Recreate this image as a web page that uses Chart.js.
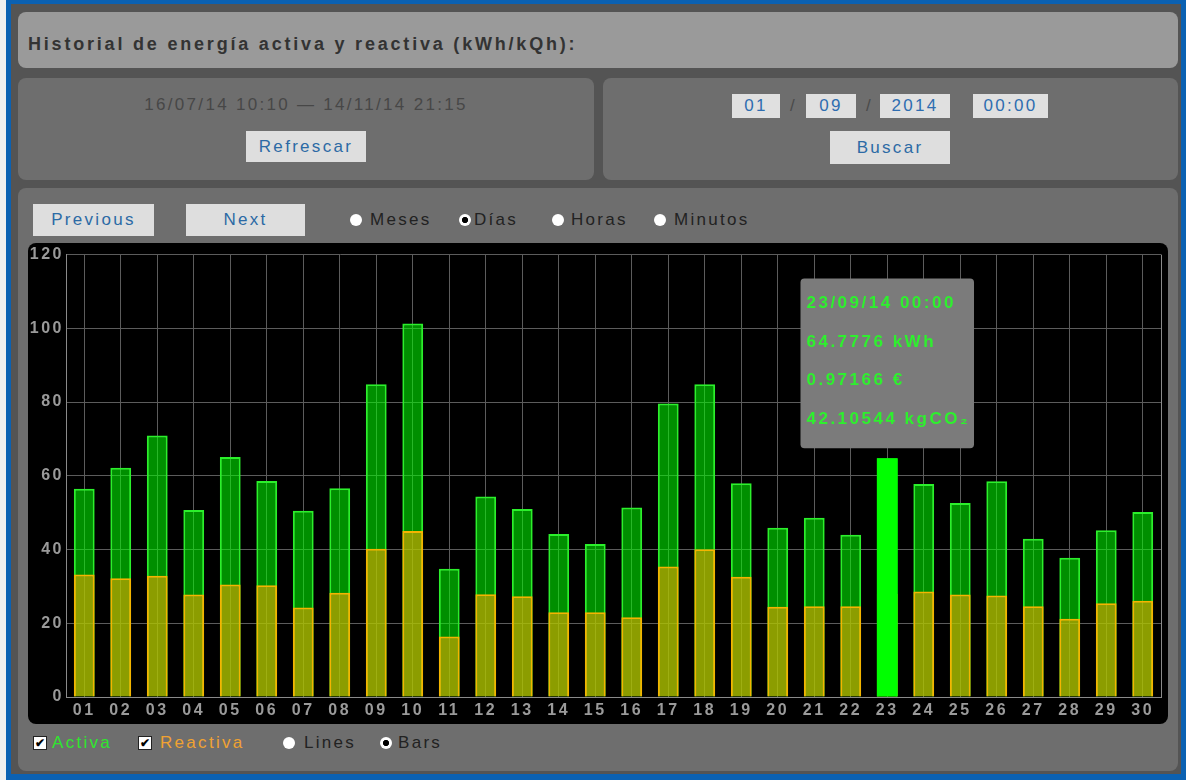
<!DOCTYPE html>
<html>
<head>
<meta charset="utf-8">
<script src="https://cdn.jsdelivr.net/npm/chart.js@4.4.1/dist/chart.umd.min.js"></script>
<style>
body { margin: 0; background: #efefef; font-family: "Liberation Sans", Arial, sans-serif; letter-spacing: 2.3px; font-size: 17px; }
.abs { position: absolute; }
#frame { left: 6px; top: 0; width: 1180px; height: 780px; background: #0b61b2; }
#inner { left: 11px; top: 4px; width: 1170px; height: 770px; background: #545454; }
.panel { border-radius: 8px; background: #6e6e6e; }
.btn { background: #dedede; color: #2c6aa5; text-align: center; }
.box { background: #e0e0e0; color: #2e6db0; text-align: center; height: 24px; line-height: 24px; top: 94px; }
.slash { top: 94px; line-height: 24px; color: #4a4a4a; }
.radio { width: 12px; height: 12px; border-radius: 50%; background: #fff; }
.radio.on { background: radial-gradient(circle, #000 0 2.8px, #fff 3.4px); }
.lbl { line-height: 20px; color: #222; }
.chk { width: 12px; height: 12px; background: #fff; border: 1px solid #222; font-size: 12px; line-height: 12px; text-align: center; font-weight: bold; color: #000; letter-spacing: 0; }
#c { left: 28px; top: 243px; background: #000; border-radius: 8px; }
</style>
</head>
<body>
<div id="frame" class="abs"></div>
<div id="inner" class="abs"></div>

<div class="abs panel" style="left:18px;top:12px;width:1160px;height:56px;background:#9a9a9a"></div>
<div class="abs" style="left:28px;top:34px;line-height:20px;font-weight:bold;font-size:18px;letter-spacing:2.8px;color:#333">Historial de energía activa y reactiva (kWh/kQh):</div>

<div class="abs panel" style="left:18px;top:78px;width:576px;height:102px"></div>
<div class="abs panel" style="left:603px;top:78px;width:575px;height:102px"></div>
<div class="abs" style="left:18px;top:95px;width:576px;text-align:center;line-height:20px;color:#474747">16/07/14 10:10 — 14/11/14 21:15</div>
<div class="abs btn" style="left:246px;top:131px;width:120px;height:31px;line-height:31px">Refrescar</div>

<div class="abs box" style="left:732px;width:48px">01</div>
<div class="abs slash" style="left:790px">/</div>
<div class="abs box" style="left:806px;width:50px">09</div>
<div class="abs slash" style="left:866px">/</div>
<div class="abs box" style="left:880px;width:70px">2014</div>
<div class="abs box" style="left:973px;width:75px">00:00</div>
<div class="abs btn" style="left:830px;top:131px;width:120px;height:33px;line-height:33px">Buscar</div>

<div class="abs panel" style="left:18px;top:188px;width:1160px;height:583px"></div>
<div class="abs btn" style="left:33px;top:204px;width:121px;height:32px;line-height:32px">Previous</div>
<div class="abs btn" style="left:186px;top:204px;width:119px;height:32px;line-height:32px">Next</div>

<div class="abs radio" style="left:350px;top:214px"></div><div class="abs lbl" style="left:370px;top:210px">Meses</div>
<div class="abs radio on" style="left:459px;top:214px"></div><div class="abs lbl" style="left:474px;top:210px">Días</div>
<div class="abs radio" style="left:552px;top:214px"></div><div class="abs lbl" style="left:571px;top:210px">Horas</div>
<div class="abs radio" style="left:654px;top:214px"></div><div class="abs lbl" style="left:674px;top:210px">Minutos</div>

<canvas id="c" class="abs" width="1140" height="481"></canvas>

<div class="abs chk" style="left:33px;top:736px">✔</div><div class="abs lbl" style="left:52px;top:733px;color:#2ee62e">Activa</div>
<div class="abs chk" style="left:138px;top:736px">✔</div><div class="abs lbl" style="left:160px;top:733px;color:#f0a232">Reactiva</div>
<div class="abs radio" style="left:283px;top:737px"></div><div class="abs lbl" style="left:304px;top:733px">Lines</div>
<div class="abs radio on" style="left:380px;top:737px"></div><div class="abs lbl" style="left:398px;top:733px">Bars</div>

<script>
const days = ["01","02","03","04","05","06","07","08","09","10","11","12","13","14","15",
              "16","17","18","19","20","21","22","23","24","25","26","27","28","29","30"];
const activa = [56.5, 62.2, 70.9, 50.7, 65.1, 58.6, 50.5, 56.6, 84.8, 101.3, 34.8, 54.4, 51.0, 44.2, 41.5,
                51.4, 79.6, 84.8, 58.0, 45.9, 48.6, 44.0, 64.7776, 57.8, 52.6, 58.5, 42.9, 37.8, 45.2, 50.2];
const reactiva = [33.2, 32.2, 32.9, 27.8, 30.5, 30.3, 24.3, 28.3, 40.2, 45.0, 16.4, 27.9, 27.3, 23.0, 23.0,
                  21.6, 35.4, 40.1, 32.6, 24.5, 24.6, 24.6, 28.0, 28.6, 27.8, 27.5, 24.6, 21.2, 25.4, 26.1];
const yTicks = [0, 20, 40, 60, 80, 100, 120];

// selected day shown with the tooltip
const hoverIndex = 22;
const tipTitle = "23/09/14 00:00";
const tipLines = ["64.7776 kWh", "0.97166 €", "42.10544 kgCO₂"];

const highlight = activa.map((v, i) => i === hoverIndex ? v : null);

const spacing = {
    id: "spacing",
    beforeUpdate(c) { c.ctx.letterSpacing = "2.5px"; },
    beforeDraw(c) { c.ctx.letterSpacing = "2.5px"; }
};

const frameLine = {
    id: "frameLine",
    beforeDatasetsDraw(c) {
        const a = c.chartArea, ctx = c.ctx;
        ctx.save();
        ctx.strokeStyle = "#8a8a8a";
        ctx.lineWidth = 1;
        ctx.beginPath();
        ctx.moveTo(Math.round(a.right) + 0.5, a.top);
        ctx.lineTo(Math.round(a.right) + 0.5, a.bottom);
        ctx.stroke();
        ctx.restore();
    }
};

Chart.defaults.font.family = '"Liberation Sans", Arial, sans-serif';

const chart = new Chart(document.getElementById("c"), {
    type: "bar",
    data: {
        labels: days,
        datasets: [
            {
                label: "Activa",
                data: activa,
                backgroundColor: "rgba(0,255,0,0.56)",
                borderColor: "#2bf02b",
                borderWidth: 2,
                grouped: false,
                order: 2
            },
            {
                label: "Reactiva",
                data: reactiva,
                backgroundColor: "rgba(255,170,0,0.55)",
                borderColor: "#f5b400",
                borderWidth: 2,
                grouped: false,
                order: 1
            },
            {
                label: "sel",
                data: highlight,
                backgroundColor: "#00ff00",
                borderWidth: 0,
                grouped: false,
                order: 0
            }
        ]
    },
    options: {
        responsive: false,
        animation: false,
        events: [],
        datasets: { bar: { barPercentage: 0.57, categoryPercentage: 1 } },
        layout: { padding: { top: 7, right: 7, left: 0, bottom: 0 } },
        plugins: {
            legend: { display: false },
            tooltip: {
                backgroundColor: "#7b7b7b",
                titleColor: "#2ef02e",
                bodyColor: "#2ef02e",
                titleFont: { size: 17, weight: "bold" },
                bodyFont: { size: 17, weight: "bold" },
                titleMarginBottom: 18,
                bodySpacing: 18,
                padding: { top: 15, bottom: 19, left: 6, right: 4 },
                cornerRadius: 4,
                caretSize: 0,
                caretPadding: 10,
                displayColors: false,
                xAlign: "center",
                yAlign: "bottom",
                callbacks: {
                    title: () => tipTitle,
                    label: () => tipLines
                }
            }
        },
        scales: {
            x: {
                grid: { color: "#5c5c5c", offset: false, drawTicks: false },
                border: { color: "#8a8a8a" },
                ticks: { color: "#9a9a9a", font: { size: 16, weight: "bold" }, padding: 4 },
                afterFit: s => { s.height = 27; }
            },
            y: {
                min: 0,
                max: 120,
                afterBuildTicks: s => { s.ticks = yTicks.map(v => ({ value: v })); },
                grid: { color: "#5c5c5c", drawTicks: false },
                border: { color: "#8a8a8a" },
                ticks: { color: "#9a9a9a", font: { size: 16, weight: "bold" }, padding: 2 },
                afterFit: s => { s.width = 38; }
            }
        }
    },
    plugins: [spacing, frameLine]
});

chart.tooltip.setActiveElements([{ datasetIndex: 2, index: hoverIndex }], { x: 0, y: 0 });
chart.update();
</script>
</body>
</html>
